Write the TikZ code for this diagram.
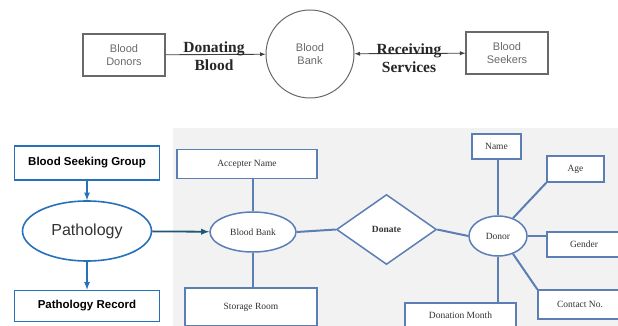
\documentclass[tikz,border=0pt]{standalone}
\usepackage{fontspec}
\setmainfont{Liberation Serif}
\newfontfamily\arialfont{Liberation Sans}
\usetikzlibrary{arrows.meta}
\usetikzlibrary{shapes.geometric}
\definecolor{erblue}{RGB}{91,126,180}
\definecolor{flowblue}{RGB}{38,113,186}
\definecolor{linkteal}{RGB}{30,88,118}
\definecolor{panelgray}{RGB}{242,242,242}
\definecolor{dfdgray}{RGB}{105,105,105}
\tikzset{
  dfdbox/.style={draw=dfdgray, line width=1.1pt, minimum width=82pt, minimum height=42pt,
    align=center, text=dfdgray, font=\arialfont\fontsize{11}{13}\selectfont},
  dfdline/.style={draw=black!75, line width=0.9pt},
  dfdlabel/.style={align=center, text=black!85, font=\bfseries\fontsize{15.5}{18}\selectfont},
  flowbox/.style={draw=flowblue, line width=1.6pt, fill=white, minimum width=145pt,
    font=\arialfont\bfseries\fontsize{11.5}{13}\selectfont},
  flowarrow/.style={draw=flowblue, line width=1.6pt, -latex},
  erbox/.style={draw=erblue, line width=1.5pt, fill=white, inner sep=0pt,
    text=black!80, font=\fontsize{9.5}{11}\selectfont},
  eroval/.style={ellipse, erbox},
  erline/.style={draw=erblue, line width=2pt}
}
\begin{document}
\begin{tikzpicture}[x=1pt,y=-1pt]
  \useasboundingbox (0,0) rectangle (618,326);

  % context diagram
  \node[dfdbox] (donors) at (124,55) {Blood\\Donors};
  \node[circle, draw=dfdgray, line width=1pt, minimum size=88pt, align=center, text=dfdgray,
    font=\arialfont\fontsize{11}{13}\selectfont] (bank) at (310,54) {Blood\\Bank};
  \node[dfdbox] (seekers) at (507,53) {Blood\\Seekers};
  \draw[dfdline, -latex] (donors) -- (bank);
  \draw[dfdline, latex-latex] (bank) -- (seekers);
  \node[dfdlabel] (donating) at (214,56) {Donating\\Blood};
  \node[dfdlabel] (receiving) at (409,58) {Receiving\\Services};

  % ER panel
  \fill[panelgray] (173,128) rectangle (618,326);

  \node[flowbox, minimum height=34pt] (group) at (87,163) {Blood Seeking Group};
  \node[ellipse, draw=flowblue, line width=1.6pt, fill=white, minimum width=129pt, minimum height=60pt,
    text=black!80, font=\arialfont\fontsize{16}{18}\selectfont] (patho) at (87,231) {Pathology};
  \node[flowbox, minimum height=31pt] (record) at (87,306) {Pathology Record};
  \draw[flowarrow] (group) -- (patho);
  \draw[flowarrow] (patho) -- (record);

  \node[erbox, minimum width=140pt, minimum height=29pt] (accname) at (247,164) {Accepter Name};
  \node[eroval, minimum width=86pt, minimum height=40pt] (bbank) at (253,232) {Blood Bank};
  \node[erbox, minimum width=132pt, minimum height=38pt] (storage) at (251,307) {Storage Room};
  \node[diamond, erbox, minimum width=100pt, minimum height=70pt, aspect=1.43,
    font=\bfseries\fontsize{9.5}{11}\selectfont] (donate) at (386.5,229.5) {Donate};
  \node[eroval, minimum width=58pt, minimum height=40pt] (donor) at (498,236) {Donor};
  \node[erbox, minimum width=49pt, minimum height=25pt] (name) at (496.5,146.5) {Name};
  \node[erbox, minimum width=57pt, minimum height=26pt] (age) at (575.5,169) {Age};
  \node[erbox, minimum width=74pt, minimum height=25pt] (gender) at (584,244.5) {Gender};
  \node[erbox, minimum width=84pt, minimum height=29pt] (contact) at (580,304.5) {Contact No.};
  \node[erbox, minimum width=111pt, minimum height=25pt] (dmonth) at (460.5,315.5) {Donation Month};

  \draw[linkteal, line width=1.8pt, -latex] (patho) -- (bbank);
  \draw[erline] (bbank.north) -- (bbank.north |- accname.south);
  \draw[erline] (bbank.south) -- (bbank.south |- storage.north);
  \draw[erline] (bbank.east) -- (donate.west);
  \draw[erline] (donate.east) -- (donor.west);
  \draw[erline] (donor.north) -- (donor.north |- name.south);
  \draw[erline] (donor.50) -- (age.south west);
  \draw[erline] (donor.east) -- (donor.east -| gender.west);
  \draw[erline] (donor.-50) -- (contact.north west);
  \draw[erline] (donor.south) -- (donor.south |- dmonth.north);
\end{tikzpicture}
\end{document}
